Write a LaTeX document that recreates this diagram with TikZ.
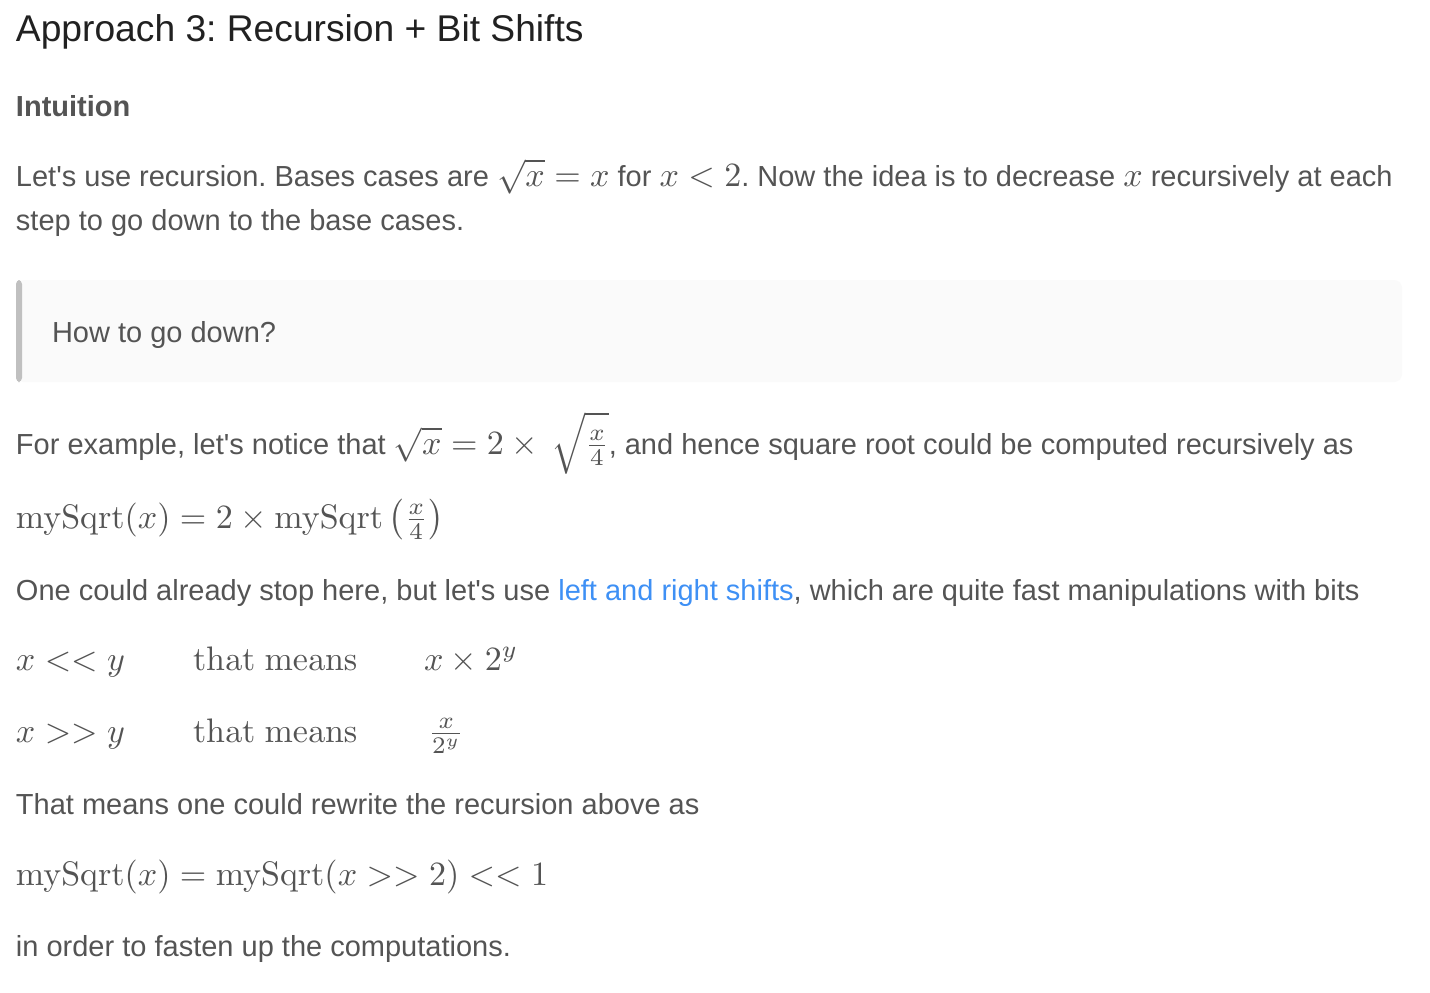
\documentclass[tikz,border=0pt]{standalone}
\usepackage[no-math]{fontspec}
\setmainfont{Liberation Sans}[Ligatures=TeXOff]
\definecolor{txt}{RGB}{84,84,84}
\definecolor{head}{RGB}{33,33,33}
\definecolor{link}{RGB}{62,144,245}
\definecolor{qbg}{RGB}{250,250,250}
\definecolor{qbar}{RGB}{192,192,192}
\newcommand{\mm}[1]{\scalebox{1.7}{\fontsize{10}{12}\selectfont$#1$}}
\frenchspacing
\begin{document}
\begin{tikzpicture}[x=0.5pt,y=-0.5pt,
  line/.style={anchor=base west,inner sep=0pt,outer sep=0pt,text=txt,font=\fontsize{14.5}{17}\selectfont},
  disp/.style={anchor=base west,inner sep=0pt,outer sep=0pt,text=txt}]
\useasboundingbox[fill=white] (0,0) rectangle (1430,992);
% heading
\node[line,text=head,font=\fontsize{18.6}{22}\selectfont] (title) at (16,41) {Approach 3: Recursion + Bit Shifts};
\node[line,font=\fontsize{14.5}{17}\selectfont\bfseries] (intu) at (16,116) {Intuition};
\node[line] (l1) at (16,186) {Let's use recursion. Bases cases are \mm{\sqrt{x} = x} for \mm{x < 2}. Now the idea is to decrease \mm{x} recursively at each};
\node[line] (l2) at (16,230) {step to go down to the base cases.};
% blockquote
\fill[qbg,rounded corners=4pt] (16,280) rectangle (1402,382);
\fill[qbar,rounded corners=2pt] (16,280) rectangle (22,382);
\node[line] (q) at (52,342) {How to go down?};
\node[line] (l4) at (16,454) {For example, let's notice that \mm{\sqrt{x} = 2 \times \,\sqrt{\frac{x}{4}\vphantom{\big|}}}, and hence square root could be computed recursively as};
\node[disp] (e1) at (16,528) {\mm{\mathrm{mySqrt}(x) = 2 \times \mathrm{mySqrt}\left(\frac{x}{4}\right)}};
\node[line] (l6) at (16,600) {One could already stop here, but let's use \textcolor{link}{left and right shifts}, which are quite fast manipulations with bits};
\node[disp] (a1) at (16,670) {\mm{x << y}};
\node[disp] (a2) at (193,670) {\mm{\mathrm{that\ means}}};
\node[disp] (a3) at (424,670) {\mm{x \times 2^y}};
\node[disp] (b1) at (16,742) {\mm{x >> y}};
\node[disp] (b2) at (193,742) {\mm{\mathrm{that\ means}}};
\node[disp] (b3) at (428,742) {\mm{\frac{x}{2^y}}};
\node[line] (l9) at (16,814) {That means one could rewrite the recursion above as};
\node[disp] (e2) at (16,885) {\mm{\mathrm{mySqrt}(x) = \mathrm{mySqrt}(x >> 2) << 1}};
\node[line] (l11) at (16,956) {in order to fasten up the computations.};
\end{tikzpicture}
\end{document}
